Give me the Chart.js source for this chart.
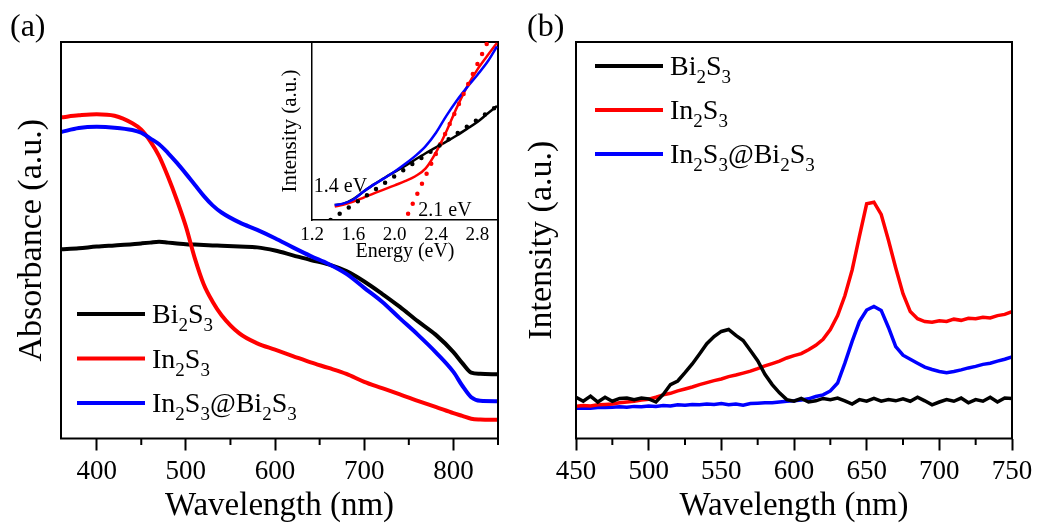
<!DOCTYPE html>
<html>
<head>
<meta charset="utf-8">
<script src="https://cdn.jsdelivr.net/npm/chart.js@4.4.1/dist/chart.umd.min.js"></script>
<style>
  html, body { margin: 0; padding: 0; background: #fff; }
  #wrap { position: relative; width: 1038px; height: 529px; }
  canvas { position: absolute; }
  #absCanvas { left: 0; top: 0; }
  #plCanvas { left: 519px; top: 0; }
  #insetCanvas { left: 270px; top: 30px; }
</style>
</head>
<body>
<div id="wrap">
  <canvas id="absCanvas" width="519" height="529"></canvas>
  <canvas id="plCanvas" width="519" height="529"></canvas>
  <canvas id="insetCanvas" width="235" height="240"></canvas>
</div>
<script>
// ---- (a) UV-vis absorbance, normalised to the plot height ----
const absWavelength = [360, 380, 400, 420, 440, 450, 460, 470, 480, 490, 500, 510, 520, 530, 540, 560,
                       580, 600, 620, 640, 660, 680, 700, 720, 740, 760, 780, 800, 810, 820, 830, 850];
const absBi2S3 = [0.477, 0.480, 0.484, 0.487, 0.490, 0.492, 0.494, 0.496, 0.494, 0.492, 0.490, 0.489, 0.488, 0.487, 0.486, 0.484,
                  0.482, 0.474, 0.462, 0.450, 0.439, 0.422, 0.396, 0.365, 0.332, 0.296, 0.262, 0.218, 0.190, 0.166, 0.163, 0.162];
const absIn2S3 = [0.810, 0.815, 0.818, 0.814, 0.795, 0.779, 0.750, 0.712, 0.660, 0.601, 0.535, 0.455, 0.389, 0.345, 0.311, 0.265,
                  0.240, 0.224, 0.208, 0.192, 0.178, 0.163, 0.143, 0.127, 0.111, 0.095, 0.080, 0.064, 0.057, 0.050, 0.048, 0.047];
const absComposite = [0.773, 0.783, 0.786, 0.784, 0.778, 0.771, 0.757, 0.742, 0.720, 0.695, 0.668, 0.640, 0.612, 0.588, 0.570, 0.545,
                      0.526, 0.505, 0.482, 0.460, 0.440, 0.415, 0.380, 0.345, 0.303, 0.262, 0.218, 0.168, 0.133, 0.104, 0.095, 0.094];
const absMajorTicks = [400, 500, 600, 700, 800];
const absMinorTicks = [450, 550, 650, 750, 850];

// ---- inset: Tauc plot with band-gap fits ----
const taucEnergy = [1.42, 1.5, 1.6, 1.7, 1.8, 1.9, 2.0, 2.1, 2.2, 2.3, 2.4, 2.5, 2.6, 2.7, 2.8, 2.9, 2.99];
const taucBi2S3 = [0.084, 0.090, 0.118, 0.160, 0.200, 0.236, 0.270, 0.304, 0.340, 0.375, 0.408, 0.440, 0.475, 0.512, 0.550, 0.598, 0.640];
const taucIn2S3 = [0.075, 0.085, 0.103, 0.126, 0.150, 0.172, 0.195, 0.218, 0.246, 0.290, 0.380, 0.497, 0.630, 0.748, 0.845, 0.925, 0.995];
const taucComposite = [0.084, 0.092, 0.115, 0.160, 0.200, 0.235, 0.272, 0.314, 0.360, 0.415, 0.490, 0.585, 0.670, 0.745, 0.815, 0.890, 0.975];
const fitBi2S3X = [1.38, 3.0];
const fitBi2S3Y = [0.0, 0.643];
const fitIn2S3X = [2.13, 2.9];
const fitIn2S3Y = [0.035, 1.0];
const taucTicks = [1.2, 1.6, 2.0, 2.4, 2.8];
const gapLabels = ['1.4 eV', '2.1 eV'];
const gapLabelX = [1.217, 2.229];
const gapLabelY = [0.157, 0.022];

// ---- (b) photoluminescence, % of plot height ----
const plWavelength = [450, 455, 460, 465, 470, 475, 480, 485, 490, 495, 500, 505, 510, 515, 520, 525, 530, 535, 540, 545,
                      550, 555, 560, 565, 570, 575, 580, 585, 590, 595, 600, 605, 610, 615, 620, 625, 630, 635, 640, 645,
                      650, 655, 660, 665, 670, 675, 680, 685, 690, 695, 700, 705, 710, 715, 720, 725, 730, 735, 740, 745, 750];
const plBi2S3 = [10.4, 9.4, 10.7, 9.2, 10.4, 9.4, 10.1, 10.2, 9.8, 10.2, 10.0, 9.2, 11.1, 13.6, 14.5, 16.6, 18.8, 21.3, 23.9, 25.7,
                 27.0, 27.5, 26.0, 24.7, 22.2, 19.6, 16.2, 13.6, 11.5, 9.8, 9.4, 10.1, 9.2, 9.5, 10.1, 9.8, 10.2, 9.5, 8.7, 9.8,
                 9.4, 10.1, 9.4, 9.8, 9.5, 10.0, 9.4, 10.4, 9.5, 8.5, 9.2, 9.8, 9.4, 10.2, 9.0, 9.8, 9.4, 10.4, 9.2, 10.2, 10.1];
const plIn2S3 = [8.1, 8.3, 8.2, 8.5, 8.6, 8.7, 9.0, 9.2, 9.4, 9.7, 9.9, 10.4, 11.0, 11.4, 12.0, 12.5, 13.0, 13.6, 14.1, 14.6,
                 15.0, 15.6, 16.0, 16.5, 17.0, 17.6, 18.3, 18.9, 19.5, 20.3, 20.9, 21.4, 22.4, 23.5, 25.0, 27.5, 31.0, 36.0, 42.5, 51.0,
                 59.2, 59.6, 56.5, 50.0, 43.0, 36.5, 32.0, 30.2, 29.5, 29.3, 29.7, 29.5, 30.1, 29.8, 30.3, 30.2, 30.6, 30.4, 31.0, 31.3, 32.0];
const plComposite = [7.6, 7.7, 7.6, 7.8, 7.8, 7.9, 8.0, 7.9, 8.1, 8.0, 8.2, 8.1, 8.3, 8.2, 8.5, 8.4, 8.6, 8.5, 8.7, 8.6,
                     8.8, 8.5, 8.7, 8.4, 8.8, 8.9, 9.0, 9.0, 9.2, 9.4, 9.5, 9.7, 10.0, 10.6, 11.0, 12.0, 14.0, 19.0, 24.5, 29.5,
                     32.4, 33.3, 32.3, 28.0, 23.2, 21.0, 20.0, 19.0, 18.0, 17.4, 16.9, 16.6, 16.9, 17.3, 17.8, 18.2, 18.7, 19.0, 19.5, 20.0, 20.6];
const plMajorTicks = [450, 500, 550, 600, 650, 700, 750];
const plMinorTicks = [475, 525, 575, 625, 675, 725];

// '_' marks the next character as a subscript
const seriesNames = ['Bi_2S_3', 'In_2S_3', 'In_2S_3@Bi_2S_3'];
const seriesColors = ['#000000', '#ff0000', '#0000ff'];

const SERIF = '"Liberation Serif", "Times New Roman", serif';
const serif = size => ({ family: SERIF, size });
const pts = (xs, ys) => xs.map((x, i) => ({ x, y: ys[i] }));

function drawFormula(ctx, text, x, y, size) {
  let cx = x;
  for (let i = 0; i < text.length; i++) {
    let ch = text[i];
    let sub = false;
    if (ch === '_') { sub = true; ch = text[++i]; }
    ctx.font = (sub ? Math.round(size * 0.68) : size) + 'px ' + SERIF;
    ctx.fillText(ch, cx, sub ? y + size * 0.3 : y);
    cx += ctx.measureText(ch).width;
  }
}

// frame, short minor ticks, legend, panel tag and free text labels
const panelDecor = {
  id: 'panelDecor',
  afterDraw(chart, args, opts) {
    const { ctx, chartArea: a, scales } = chart;
    ctx.save();
    ctx.strokeStyle = '#000';
    ctx.lineWidth = 2;
    if (opts.frame) ctx.strokeRect(a.left, a.top, a.right - a.left, a.bottom - a.top);
    (opts.minorTicks || []).forEach(v => {
      const px = scales.x.getPixelForValue(v);
      ctx.beginPath();
      ctx.moveTo(px, a.bottom);
      ctx.lineTo(px, a.bottom + 6.5);
      ctx.stroke();
    });
    ctx.fillStyle = '#000';
    ctx.textBaseline = 'alphabetic';
    if (opts.legend) {
      const lg = opts.legend;
      seriesNames.forEach((name, i) => {
        const ly = lg.y + i * lg.gap;
        ctx.strokeStyle = seriesColors[i];
        ctx.lineWidth = 4;
        ctx.beginPath();
        ctx.moveTo(lg.x, ly);
        ctx.lineTo(lg.x + lg.len, ly);
        ctx.stroke();
        drawFormula(ctx, name, lg.x + lg.len + 7, ly + 9, 28);
      });
    }
    if (opts.tag) {
      ctx.font = '32px ' + SERIF;
      ctx.fillText(opts.tag.text, opts.tag.x, opts.tag.y);
    }
    (opts.notes || []).forEach(n => {
      ctx.font = '20px ' + SERIF;
      ctx.fillText(n.text, scales.x.getPixelForValue(n.x), scales.y.getPixelForValue(n.y));
    });
    ctx.restore();
  }
};

const fixedTicks = values => scale => { scale.ticks = values.map(v => ({ value: v })); };

function curve(data, color, width, smooth) {
  return {
    data,
    borderColor: color,
    borderWidth: width,
    pointRadius: 0,
    fill: false,
    tension: 0,
    cubicInterpolationMode: smooth ? 'monotone' : 'default',
  };
}

function fitLine(data, color) {
  return {
    data,
    borderColor: color,
    borderWidth: 4.5,
    borderDash: [0, 11],
    borderCapStyle: 'round',
    pointRadius: 0,
    fill: false,
  };
}

function mainOptions(cfg) {
  return {
    responsive: false,
    animation: false,
    events: [],
    layout: { padding: { left: 0, top: 42, right: cfg.padRight, bottom: 0 } },
    scales: {
      x: {
        type: 'linear',
        min: cfg.xMin,
        max: cfg.xMax,
        afterBuildTicks: fixedTicks(cfg.majorTicks),
        afterFit: s => { s.height = 90.5; },
        grid: { drawOnChartArea: false, tickLength: 12, tickWidth: 2, tickColor: '#000' },
        border: { display: false },
        ticks: { font: serif(27), color: '#000', padding: 5, autoSkip: false, maxRotation: 0, callback: v => String(v) },
        title: { display: true, text: 'Wavelength (nm)', font: serif(33), color: '#000', padding: { top: 0, bottom: 3 } },
      },
      y: {
        min: 0,
        max: cfg.yMax,
        afterFit: s => { s.width = cfg.yWidth; },
        grid: { display: false },
        border: { display: false },
        ticks: { display: false },
        title: { display: true, text: cfg.yTitle, font: serif(34), color: '#000', padding: { top: cfg.yTitlePad, bottom: 0 } },
      },
    },
    plugins: {
      legend: { display: false },
      tooltip: { enabled: false },
      panelDecor: { frame: true, minorTicks: cfg.minorTicks, tag: cfg.tag, legend: cfg.legend },
    },
  };
}

// (a) absorbance
new Chart(document.getElementById('absCanvas'), {
  type: 'line',
  data: {
    datasets: [
      curve(pts(absWavelength, absComposite), seriesColors[2], 4, true),
      curve(pts(absWavelength, absIn2S3), seriesColors[1], 4, true),
      curve(pts(absWavelength, absBi2S3), seriesColors[0], 4, true),
    ],
  },
  options: mainOptions({
    padRight: 21, xMin: 360, xMax: 850, majorTicks: absMajorTicks, minorTicks: absMinorTicks,
    yMax: 1, yWidth: 61, yTitle: 'Absorbance (a.u.)', yTitlePad: 12,
    tag: { text: '(a)', x: 10, y: 36 },
    legend: { x: 77, y: 314, gap: 44.5, len: 68 },
  }),
  plugins: [panelDecor],
});

// (a) inset
new Chart(document.getElementById('insetCanvas'), {
  type: 'line',
  data: {
    datasets: [
      fitLine(pts(fitBi2S3X, fitBi2S3Y), seriesColors[0]),
      fitLine(pts(fitIn2S3X, fitIn2S3Y), seriesColors[1]),
      curve(pts(taucEnergy, taucComposite), seriesColors[2], 2.5, true),
      curve(pts(taucEnergy, taucIn2S3), seriesColors[1], 2.5, true),
      curve(pts(taucEnergy, taucBi2S3), seriesColors[0], 2.5, true),
    ],
  },
  options: {
    responsive: false,
    animation: false,
    events: [],
    layout: { padding: { left: 0, top: 12, right: 7, bottom: 0 } },
    scales: {
      x: {
        type: 'linear',
        min: 1.2,
        max: 3.0,
        afterBuildTicks: fixedTicks(taucTicks),
        afterFit: s => { s.height = 50; },
        grid: { display: false, drawTicks: false },
        border: { display: true, color: '#000', width: 1.5 },
        ticks: { font: serif(19), color: '#000', padding: 4, autoSkip: false, maxRotation: 0, callback: v => v.toFixed(1) },
        title: { display: true, text: 'Energy (eV)', font: serif(20), color: '#000', padding: { top: 0, bottom: 6 } },
      },
      y: {
        min: 0,
        max: 1,
        afterFit: s => { s.width = 42; },
        grid: { display: false, drawTicks: false },
        border: { display: true, color: '#000', width: 1.5 },
        ticks: { display: false },
        title: { display: true, text: 'Intensity (a.u.)', font: serif(21), color: '#000', padding: { top: 8, bottom: 0 } },
      },
    },
    plugins: {
      legend: { display: false },
      tooltip: { enabled: false },
      panelDecor: {
        frame: false,
        notes: gapLabels.map((text, i) => ({ text, x: gapLabelX[i], y: gapLabelY[i] })),
      },
    },
  },
  plugins: [panelDecor],
});

// (b) photoluminescence
new Chart(document.getElementById('plCanvas'), {
  type: 'line',
  data: {
    datasets: [
      curve(pts(plWavelength, plBi2S3), seriesColors[0], 3.5, false),
      curve(pts(plWavelength, plIn2S3), seriesColors[1], 3.5, false),
      curve(pts(plWavelength, plComposite), seriesColors[2], 3.5, false),
    ],
  },
  options: mainOptions({
    padRight: 26, xMin: 450, xMax: 750, majorTicks: plMajorTicks, minorTicks: plMinorTicks,
    yMax: 100, yWidth: 57, yTitle: 'Intensity (a.u.)', yTitlePad: 3,
    tag: { text: '(b)', x: 8, y: 36 },
    legend: { x: 76, y: 66, gap: 44, len: 68 },
  }),
  plugins: [panelDecor],
});
</script>
</body>
</html>
